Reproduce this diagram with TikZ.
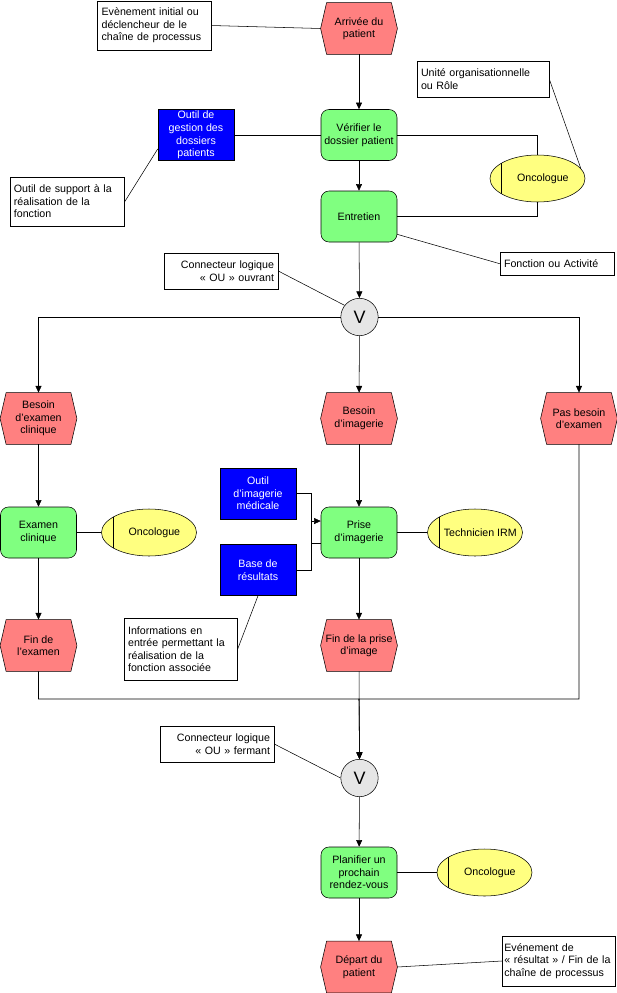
\documentclass[tikz,border=0pt]{standalone}
\usepackage{fontspec}
\setmainfont{Liberation Sans}
\usepackage{tikz}
\usetikzlibrary{positioning,arrows.meta,shapes.geometric,backgrounds}
\usepackage{xcolor}

\definecolor{evfill}{RGB}{255,128,128}
\definecolor{fnfill}{RGB}{128,255,128}
\definecolor{toolblue}{RGB}{0,0,255}
\definecolor{rolefill}{RGB}{255,255,128}
\definecolor{orfill}{RGB}{230,230,230}
\newcommand{\rolename}[1]{\makebox[0pt]{\hspace*{8pt}#1}}

\begin{document}
\begin{tikzpicture}[x=0.75pt,y=0.75pt,yscale=-1,xscale=1,line width=0.6pt,
  font=\fontsize{8}{9.4}\selectfont,
  event/.style={minimum width=57pt,minimum height=38.25pt,inner sep=1pt,align=center},
  evshape/.style={draw=black,fill=evfill},
  func/.style={draw,fill=fnfill,rounded corners=6pt,minimum width=57pt,minimum height=38.25pt,inner sep=1pt,align=center},
  tool/.style={draw,fill=toolblue,text=white,minimum width=57pt,minimum height=38.25pt,inner sep=1pt,align=center},
  role/.style={ellipse,draw,fill=rolefill,minimum width=71.25pt,minimum height=35.25pt,inner sep=0pt,
    path picture={\draw ([xshift=8.5pt]path picture bounding box.north west) -- ([xshift=8.5pt]path picture bounding box.south west);}},
  orconn/.style={circle,draw,fill=orfill,minimum size=28pt,inner sep=0pt,font=\fontsize{13.5}{14}\selectfont},
  note/.style={draw,fill=white,inner xsep=3pt,inner ysep=2pt,align=left},
  flow/.style={-{Triangle[length=5pt,width=4.5pt]}}]
\useasboundingbox (0,0) rectangle (617,993);

%Events
\node [event] (arr) at (359,28.5) {Arrivée du\\patient};
\node [event] (besc) at (38.5,418.5) {Besoin\\d’examen\\clinique};
\node [event] (besi) at (359,418.5) {Besoin\\d’imagerie};
\node [event] (pasb) at (579,418.5) {Pas besoin\\d’examen};
\node [event] (fine) at (38.5,645.5) {Fin de\\l’examen};
\node [event] (finp) at (359,645.5) {Fin de la prise\\d’image};
\node [event] (dep) at (359,967) {Départ du\\patient};
\begin{pgfonlayer}{background}
\foreach \ev in {arr,besc,besi,pasb,fine,finp,dep}
  \draw [evshape] (\ev.west) -- ([xshift=4.5pt]\ev.north west) -- ([xshift=-4.5pt]\ev.north east) -- (\ev.east) -- ([xshift=-4.5pt]\ev.south east) -- ([xshift=4.5pt]\ev.south west) -- cycle;
\end{pgfonlayer}

%Functions
\node [func] (ver) at (359,135) {Vérifier le\\dossier patient};
\node [func] (ent) at (359,216.5) {Entretien};
\node [func] (exa) at (38.5,532.5) {Examen\\clinique};
\node [func] (pri) at (359,532.5) {Prise\\d’imagerie};
\node [func] (pla) at (359,872.5) {Planifier un\\prochain\\rendez-vous};

%Tools
\node [tool] (tgest) at (196,135) {Outil de\\gestion des\\dossiers\\patients};
\node [tool] (timg) at (258,493.5) {Outil\\d’imagerie\\médicale};
\node [tool] (tbase) at (258,570) {Base de\\résultats};

%Roles
\node [role] (onc1) at (537.5,178.5) {\rolename{Oncologue}};
\node [role] (onc2) at (149,532.5) {\rolename{Oncologue}};
\node [role] (tec) at (475,532.5) {\rolename{Technicien IRM}};
\node [role] (onc3) at (484.5,872.5) {\rolename{Oncologue}};

%Connectors
\node [orconn] (orA) at (359.5,317) {V};
\node [orconn] (orB) at (359.5,778) {V};
\coordinate (jn) at (359,699);

%Notes
\node [note,text width=79pt,minimum height=36.75pt] (nDebut) at (154.3,25.5) {Evènement initial ou\\déclencheur de le\\chaîne de processus};
\node [note,text width=93pt,minimum height=27pt] (nRole) at (483,79) {Unité organisationnelle\\ou Rôle};
\node [note,text width=80pt,minimum height=36.75pt] (nOutil) at (67.25,201.5) {Outil de support à la\\réalisation de la\\fonction};
\node [note,text width=79.5pt,minimum height=17.5pt] (nFonc) at (557,263.7) {Fonction ou Activité};
\node [note,text width=79.5pt,minimum height=27pt,align=right] (nOuv) at (221,271) {Connecteur logique\\«~OU~» ouvrant};
\node [note,text width=79pt,minimum height=46.5pt] (nInfo) at (180.75,649) {Informations en\\entrée permettant la\\réalisation de la\\fonction associée};
\node [note,text width=79.5pt,minimum height=27pt,align=right] (nFerm) at (217,744) {Connecteur logique\\«~OU~» fermant};
\node [note,text width=82pt,inner xsep=1.5pt,minimum height=37.5pt] (nFin) at (559,961) {Evénement de\\\mbox{«~résultat~» / Fin de la}\\chaîne de processus};

%Control flow
\draw [flow] (arr) -- (ver);
\draw [flow] (ver) -- (ent);
\draw [flow] (ent) -- (orA);
\draw [flow] (orA.west) -| (besc.north);
\draw [flow] (orA) -- (besi);
\draw [flow] (orA.east) -| (pasb.north);
\draw [flow] (besc) -- (exa);
\draw [flow] (besi) -- (pri);
\draw [flow] (exa) -- (fine);
\draw [flow] (pri) -- (finp);
\draw [flow] (fine.south) |- (jn) -- (orB.north);
\draw [flow] (pasb.south) |- (jn) -- (orB.north);
\draw [flow] (finp) -- (orB);
\draw [flow] (orB) -- (pla);
\draw [flow] (pla) -- (dep);

%Tools and roles
\draw (tgest) -- (ver);
\draw (ver.east) -| (onc1.north);
\draw (ent.east) -| (onc1.south);
\draw (exa) -- (onc2);
\draw (pri) -- (tec);
\draw (pla) -- (onc3);
\draw (timg.east) -- ++(15,0) |- ([yshift=7.9pt]pri.west);
\draw [flow] (tbase.east) -- ++(15,0) |- ([yshift=-8.6pt]pri.west);

%Note lines
\draw (nDebut.east) -- (arr.west);
\draw (nRole.east) -- (onc1.13);
\draw (nOutil.east) -- (tgest.200);
\draw (nFonc.west) -- (ent.-25);
\draw (nOuv.east) -- (orA.142);
\draw (nInfo.east) -- (tbase.south);
\draw (nFerm.east) -- (orB.west);
\draw (nFin.west) -- (dep.east);
\end{tikzpicture}
\end{document}
